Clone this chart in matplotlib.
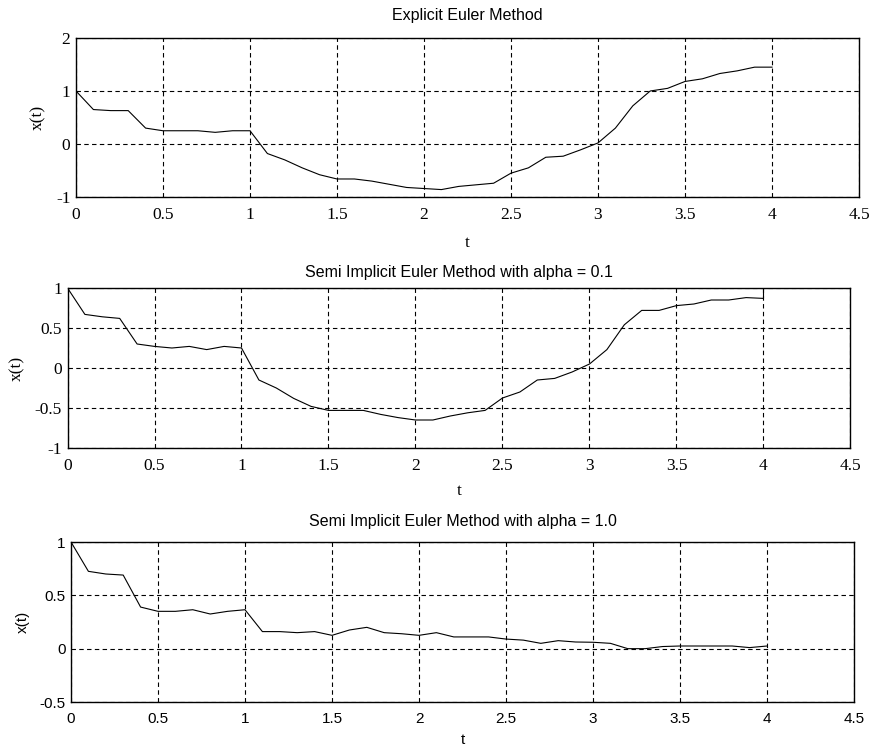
import matplotlib
matplotlib.use("Agg")
import matplotlib.pyplot as plt
import numpy as np

t = [round(0.1 * i, 1) for i in range(41)]

x_explicit = [1.0, 0.65, 0.63, 0.63, 0.30, 0.25, 0.25, 0.25, 0.22, 0.25, 0.25,
              -0.18, -0.30, -0.45, -0.58, -0.66, -0.66, -0.70, -0.76, -0.82, -0.84,
              -0.86, -0.80, -0.77, -0.74, -0.55, -0.45, -0.25, -0.23, -0.11, 0.02,
              0.30, 0.72, 1.00, 1.05, 1.18, 1.23, 1.33, 1.38, 1.45, 1.45]

t_semi01 = t + [4.0]
x_semi01 = [1.0, 0.67, 0.64, 0.62, 0.30, 0.27, 0.25, 0.27, 0.23, 0.27, 0.25,
            -0.15, -0.25, -0.38, -0.48, -0.53, -0.53, -0.53, -0.58, -0.62, -0.65,
            -0.65, -0.60, -0.56, -0.53, -0.375, -0.30, -0.15, -0.13, -0.05, 0.05,
            0.23, 0.54, 0.72, 0.72, 0.78, 0.80, 0.85, 0.85, 0.88, 0.87, 1.0]

x_semi10 = [1.0, 0.725, 0.70, 0.69, 0.39, 0.35, 0.35, 0.365, 0.325, 0.35, 0.365,
            0.16, 0.16, 0.15, 0.16, 0.125, 0.175, 0.20, 0.15, 0.14, 0.125,
            0.15, 0.11, 0.11, 0.11, 0.09, 0.08, 0.05, 0.075, 0.0625, 0.06,
            0.05, 0.0, 0.0, 0.02, 0.025, 0.025, 0.025, 0.025, 0.01, 0.025]

titles = ["Explicit Euler Method",
          "Semi Implicit Euler Method with alpha = 0.1",
          "Semi Implicit Euler Method with alpha = 1.0"]
xticks = [0, 0.5, 1, 1.5, 2, 2.5, 3, 3.5, 4, 4.5]
xticklabels = ["0", "0.5", "1", "1.5", "2", "2.5", "3", "3.5", "4", "4.5"]
yticks1 = [-1, 0, 1, 2]
yticklabels1 = ["-1", "0", "1", "2"]
yticks2 = [-1, -0.5, 0, 0.5, 1]
yticklabels2 = ["-1", "-0.5", "0", "0.5", "1"]
yticks3 = [-0.5, 0, 0.5, 1]
yticklabels3 = ["-0.5", "0", "0.5", "1"]

W, H = 874, 748
fig = plt.figure(figsize=(W / 100, H / 100), dpi=100)

def box(l, r, top, bot):
    return [l / W, 1 - bot / H, (r - l) / W, (bot - top) / H]

serif = "Liberation Serif"
sans = "Liberation Sans"

panels = [
    (box(76, 859, 38, 197), t, x_explicit, titles[0], yticks1, yticklabels1, serif, 12.5, 9, 13),
    (box(67.5, 850.5, 288, 448), t_semi01, x_semi01, titles[1], yticks2, yticklabels2, serif, 12.5, 7, 8),
    (box(71, 854, 542, 702), t, x_semi10, titles[2], yticks3, yticklabels3, sans, 11, 5, 11.5),
]

for rect, xs, ys, title, yt, ytl, fam, fs, xlpad, tpad in panels:
    ax = fig.add_axes(rect)
    ax.plot(xs, ys, color="black", linewidth=0.8)
    ax.set_xlim(0, 4.5)
    ax.set_ylim(yt[0], yt[-1])
    ax.set_xticks(xticks)
    ax.set_xticklabels(xticklabels, fontfamily=fam, fontsize=fs)
    ax.set_yticks(yt)
    ax.set_yticklabels(ytl, fontfamily=fam, fontsize=fs)
    ax.tick_params(axis="x", direction="in", length=0, pad=7)
    ax.tick_params(axis="y", direction="in", length=0, pad=4)
    ax.grid(True, color="black", linestyle=(0, (4, 3)), linewidth=0.8)
    for s in ax.spines.values():
        s.set_linewidth(1.0)
        s.set_color("black")
    ax.set_title(title, fontfamily=sans, fontsize=11.5, pad=tpad)
    ax.set_xlabel("t", fontfamily=fam, fontsize=fs, labelpad=xlpad)
    ax.set_ylabel("x(t)", fontfamily=fam, fontsize=fs, labelpad=7)

fig.savefig("out.png", dpi=100)
